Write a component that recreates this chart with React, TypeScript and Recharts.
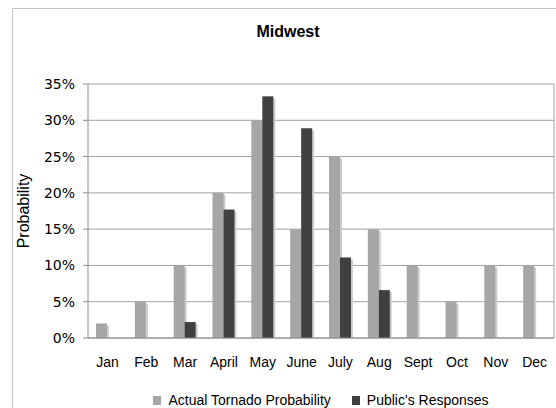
import React from 'react';
import { BarChart, Bar, XAxis, YAxis, CartesianGrid, Legend, ReferenceLine } from 'recharts';

const months = ['Jan', 'Feb', 'Mar', 'April', 'May', 'June', 'July', 'Aug', 'Sept', 'Oct', 'Nov', 'Dec'];
const actualProbability = [2, 5, 10, 20, 30, 15, 25, 15, 10, 5, 10, 10];
const publicResponses = [0, 0, 2.2, 17.7, 33.3, 28.9, 11.1, 6.6, 0, 0, 0, 0];
const yTicks = [0, 5, 10, 15, 20, 25, 30, 35];
const boundaryTicks = [0, 1, 2, 3, 4, 5, 6, 7, 8, 9, 10, 11, 12];

const data = months.map((m, i) => ({
  month: m,
  idx: i + 0.5,
  actual: actualProbability[i],
  pub: publicResponses[i],
}));

const GRAY = '#a6a6a6';
const DARK = '#404040';
const SHADOW = '#cdcdcd';
const SANS = '"Liberation Sans", Arial, Helvetica, sans-serif';

const shadowShape = (fill: string) => (props: any) => {
  const { x, y, width, height } = props;
  if (!height || height <= 0) return <g />;
  return (
    <g>
      <rect x={x + 2} y={y + 2} width={width} height={Math.max(0, height - 2)} fill={SHADOW} />
      <rect x={x} y={y} width={width} height={height} fill={fill} />
    </g>
  );
};

const renderLegend = (props: any) => {
  const payload = props.payload || [];
  return (
    <div style={{ display: 'flex', justifyContent: 'center', alignItems: 'center', gap: 21, height: 18 }}>
      {payload.map((p: any) => (
        <div key={p.value} style={{ display: 'flex', alignItems: 'center' }}>
          <div style={{ width: 8, height: 9, background: p.color, marginRight: 7 }} />
          <span style={{ font: `14px ${SANS}`, lineHeight: '18px', color: '#000' }}>{p.value}</span>
        </div>
      ))}
    </div>
  );
};

export default function App() {
  return (
    <div style={{ position: 'absolute', left: 0, top: 0, width: 556, height: 408, overflow: 'hidden', background: '#fff' }}>
      <div style={{ position: 'absolute', left: 12, top: 8, width: 600, height: 500, border: '1.5px solid #c4c4c4' }} />
      <div style={{ position: 'absolute', left: 188, width: 200, top: 24, textAlign: 'center', font: `bold 16px ${SANS}`, lineHeight: '16px', color: '#000' }}>
        Midwest
      </div>
      <div style={{ position: 'absolute', left: 0, top: 0 }}>
        <BarChart
          width={556}
          height={408}
          data={data}
          margin={{ top: 84, right: 2, left: 0, bottom: 0 }}
          barSize={11}
          barGap={0}
        >
          <CartesianGrid vertical={false} stroke="#a0a0a0" strokeWidth={1} />
          <XAxis
            xAxisId="b"
            type="number"
            dataKey="idx"
            domain={[0, 12]}
            ticks={boundaryTicks}
            allowDataOverflow
            height={0}
            tick={false}
            axisLine={false}
            tickLine={{ stroke: '#a0a0a0' }}
            tickSize={4}
          />
          <XAxis
            dataKey="month"
            height={70}
            tickLine={false}
            axisLine={{ stroke: '#8c8c8c' }}
            tickMargin={13}
            interval={0}
            tick={{ fill: '#000', fontSize: 14, fontFamily: SANS }}
          />
          <YAxis
            width={88}
            domain={[0, 35]}
            ticks={yTicks}
            tickFormatter={(v: number) => `${v}%`}
            tickSize={5}
            tickMargin={8}
            tickLine={{ stroke: '#8c8c8c' }}
            axisLine={{ stroke: '#8c8c8c' }}
            tick={{ fill: '#000', fontSize: 14, fontFamily: '"DejaVu Sans", Verdana, sans-serif' }}
            label={{
              content: () => (
                <text
                  x={23}
                  y={211}
                  transform="rotate(-90 23 211)"
                  textAnchor="middle"
                  dominantBaseline="central"
                  fontSize={16}
                  fontFamily={SANS}
                  fill="#000"
                >
                  Probability
                </text>
              ),
            }}
          />
          <ReferenceLine xAxisId="b" x={12} stroke="#a0a0a0" />
          <Bar dataKey="actual" name="Actual Tornado Probability" fill={GRAY} shape={shadowShape(GRAY)} isAnimationActive={false} />
          <Bar dataKey="pub" name="Public's Responses" fill={DARK} shape={shadowShape(DARK)} isAnimationActive={false} />
          <Legend
            verticalAlign="middle"
            content={renderLegend}
            wrapperStyle={{ left: 88, top: 391, width: 466, height: 18 }}
          />
        </BarChart>
      </div>
    </div>
  );
}
